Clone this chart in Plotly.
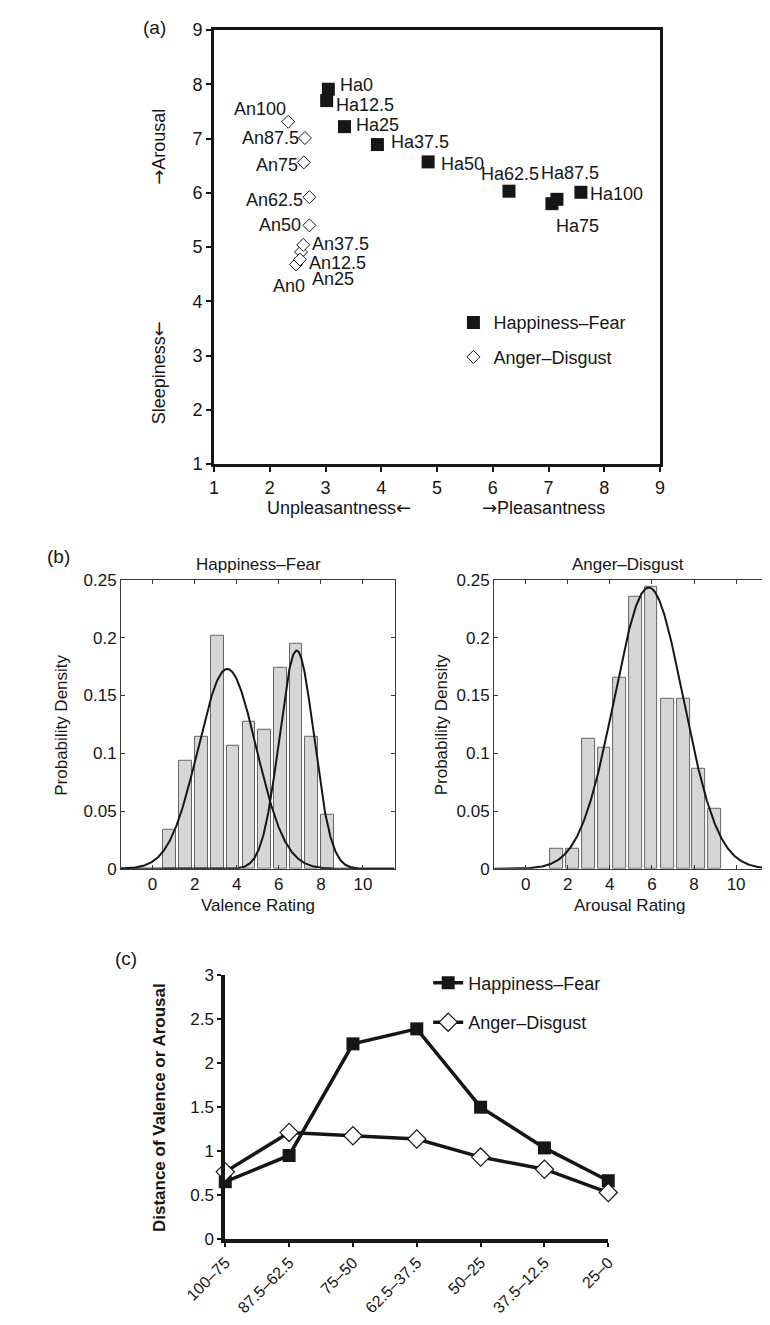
import numpy as np
import plotly.graph_objects as go

W, H = 770, 1325
FONT = "Liberation Sans, Arial, Helvetica, sans-serif"
INK = "#161616"
ARROW_R = "<span style=\"font-family:'DejaVu Sans'\">\u2192</span>"
ARROW_L = "<span style=\"font-family:'DejaVu Sans'\">\u2190</span>"

# ---------------- Panel (a) data ----------------
ha_labels = ["Ha0", "Ha12.5", "Ha25", "Ha37.5", "Ha50", "Ha62.5", "Ha75", "Ha87.5", "Ha100"]
ha_valence = [3.05, 3.02, 3.34, 3.93, 4.84, 6.29, 7.06, 7.15, 7.58]
ha_arousal = [7.91, 7.70, 7.22, 6.89, 6.57, 6.03, 5.80, 5.88, 6.01]

an_labels = ["An0", "An12.5", "An25", "An37.5", "An50", "An62.5", "An75", "An87.5", "An100"]
an_valence = [2.47, 2.56, 2.54, 2.60, 2.71, 2.71, 2.61, 2.63, 2.33]
an_arousal = [4.68, 4.91, 4.77, 5.04, 5.40, 5.92, 6.56, 7.01, 7.31]

axis_ticks_a = [1, 2, 3, 4, 5, 6, 7, 8, 9]

# ---------------- Panel (b) data ----------------
val_bin_centers = [0.8, 1.56, 2.31, 3.08, 3.82, 4.58, 5.31, 6.08, 6.82, 7.57, 8.32]
val_density = [0.0335, 0.0934, 0.1139, 0.2020, 0.1067, 0.1275, 0.1207, 0.1743, 0.1948, 0.1139, 0.0468]
val_fit_means = [3.55, 6.85]
val_fit_sds = [1.38, 0.82]
val_fit_weights = [0.598, 0.388]

aro_bin_centers = [1.47, 2.22, 2.99, 3.73, 4.48, 5.24, 5.96, 6.73, 7.49, 8.23, 8.98]
aro_density = [0.0173, 0.0173, 0.1127, 0.1045, 0.1652, 0.2352, 0.2440, 0.1474, 0.1474, 0.0869, 0.0522]
aro_fit_means = [5.85]
aro_fit_sds = [1.64]
aro_fit_weights = [1.0]

rating_ticks = [0, 2, 4, 6, 8, 10]

# ---------------- Panel (c) data ----------------
ranges = ["100\u201375", "87.5\u201362.5", "75\u201350", "62.5\u201337.5", "50\u201325", "37.5\u201312.5", "25\u20130"]
hf_distance = [0.653, 0.951, 2.22, 2.39, 1.50, 1.037, 0.664]
ad_distance = [0.765, 1.213, 1.175, 1.138, 0.933, 0.795, 0.53]

# ---------------- label placement (style: anchor, dx px, dy px down) ----------------
ha_label_style = {
    "Ha0": ("left", 10, -4), "Ha12.5": ("left", 7, 4), "Ha25": ("left", 9, -2),
    "Ha37.5": ("left", 12, -3), "Ha50": ("left", 11, 2), "Ha62.5": ("center", 1, -17),
    "Ha75": ("center", 26, 22), "Ha87.5": ("center", 13, -26), "Ha100": ("left", 7, 2),
}
an_label_style = {
    "An0": ("center", -7, 22), "An12.5": ("left", 6, 11), "An25": ("left", 10, 19),
    "An37.5": ("left", 7, -1), "An50": ("right", -6, 0), "An62.5": ("right", -4, 3),
    "An75": ("right", -4, 3), "An87.5": ("right", -4, 0), "An100": ("right", 0, -13),
}


def xd(a, b):
    return [a / W, b / W]


def yd(top, bottom):
    return [1 - bottom / H, 1 - top / H]


def mixture(x, means, sds, weights):
    y = np.zeros_like(x)
    for m, s, w in zip(means, sds, weights):
        y += w * np.exp(-0.5 * ((x - m) / s) ** 2) / (s * np.sqrt(2 * np.pi))
    return y


fig = go.Figure()

# ---- Panel (a)
fig.add_trace(go.Scatter(
    x=ha_valence, y=ha_arousal, mode="markers",
    marker=dict(symbol="square", size=13, color=INK),
    name="Happiness\u2013Fear", xaxis="x", yaxis="y", legend="legend", cliponaxis=False))
fig.add_trace(go.Scatter(
    x=an_valence, y=an_arousal, mode="markers",
    marker=dict(symbol="diamond", size=10, color="white", line=dict(color=INK, width=1)),
    name="Anger\u2013Disgust", xaxis="x", yaxis="y", legend="legend2", cliponaxis=False))

for labs, xs_, ys_, style in ((ha_labels, ha_valence, ha_arousal, ha_label_style),
                              (an_labels, an_valence, an_arousal, an_label_style)):
    for lab, vx, vy in zip(labs, xs_, ys_):
        anchor, dx, dy = style[lab]
        fig.add_annotation(x=vx, y=vy, xref="x", yref="y", text=lab, showarrow=False,
                           xanchor=anchor, yanchor="middle", xshift=dx, yshift=-dy,
                           font=dict(size=18, color=INK))

# ---- Panel (b) left
xs = np.linspace(-1.5, 11.5, 500)
fig.add_trace(go.Bar(x=val_bin_centers, y=val_density, width=0.61,
                     marker=dict(color="#d5d6d8", line=dict(color="#666", width=1)),
                     xaxis="x2", yaxis="y2", showlegend=False))
for m, s, w in zip(val_fit_means, val_fit_sds, val_fit_weights):
    fig.add_trace(go.Scatter(x=xs, y=mixture(xs, [m], [s], [w]), mode="lines",
                             line=dict(color=INK, width=2), xaxis="x2", yaxis="y2", showlegend=False))

# ---- Panel (b) right
fig.add_trace(go.Bar(x=aro_bin_centers, y=aro_density, width=0.61,
                     marker=dict(color="#d5d6d8", line=dict(color="#666", width=1)),
                     xaxis="x3", yaxis="y3", showlegend=False))
fig.add_trace(go.Scatter(x=xs, y=mixture(xs, aro_fit_means, aro_fit_sds, aro_fit_weights), mode="lines",
                         line=dict(color=INK, width=2), xaxis="x3", yaxis="y3", showlegend=False))

# ---- Panel (c)
xi = list(range(len(ranges)))
fig.add_trace(go.Scatter(x=xi, y=hf_distance, mode="lines+markers", name="Happiness\u2013Fear",
                         line=dict(color=INK, width=3.5),
                         marker=dict(symbol="square", size=13, color=INK),
                         xaxis="x4", yaxis="y4", legend="legend3", cliponaxis=False))
fig.add_trace(go.Scatter(x=xi, y=ad_distance, mode="lines+markers", name="Anger\u2013Disgust",
                         line=dict(color=INK, width=3.5),
                         marker=dict(symbol="diamond", size=14, color="white", line=dict(color=INK, width=1.2)),
                         xaxis="x4", yaxis="y4", legend="legend4", cliponaxis=False))

axis_a = dict(showline=True, linecolor=INK, linewidth=3, mirror=True, ticks="outside",
              ticklen=5, tickwidth=2, tickcolor=INK, showgrid=False, zeroline=False,
              tickfont=dict(size=18, color=INK), tickvals=axis_ticks_a, range=[1, 9])
axis_b = dict(showline=True, linecolor="#3a3a3a", linewidth=1, mirror="ticks", ticks="inside",
              ticklen=4, tickwidth=1, tickcolor="#3a3a3a", showgrid=False, zeroline=False,
              tickfont=dict(size=17, color=INK))
axis_c = dict(showline=True, linecolor=INK, linewidth=4, ticks="outside", ticklen=4,
              tickwidth=2, tickcolor=INK, showgrid=False, zeroline=False,
              tickfont=dict(size=17, color=INK))

leg = dict(xanchor="left", yanchor="middle", bgcolor="rgba(0,0,0,0)",
           font=dict(size=18, color=INK), itemwidth=30, borderwidth=0)

fig.update_layout(
    width=W, height=H, margin=dict(l=0, r=0, t=0, b=0),
    paper_bgcolor="white", plot_bgcolor="white",
    font=dict(family=FONT, color=INK),
    bargap=0,
    xaxis=dict(axis_a, domain=xd(184, 661), anchor="y"),
    yaxis=dict(axis_a, domain=yd(20.4, 461), anchor="x"),
    xaxis2=dict(axis_b, domain=xd(84.5, 377), range=[-1.5, 11.5], anchor="y2", tickvals=rating_ticks),
    yaxis2=dict(axis_b, domain=yd(578.5, 872), range=[0, 0.25], anchor="x2", dtick=0.05),
    xaxis3=dict(axis_b, domain=xd(483.5, 770), range=[-1.5, 11.23], anchor="y3", tickvals=rating_ticks),
    yaxis3=dict(axis_b, domain=yd(578.5, 872), range=[0, 0.25], anchor="x3", dtick=0.05, mirror=False),
    xaxis4=dict(axis_c, domain=xd(196, 605.6), range=[0, 6], anchor="y4",
                tickvals=xi, ticktext=ranges, tickangle=-45, tickfont=dict(size=16, color=INK)),
    yaxis4=dict(axis_c, domain=yd(980, 1248), range=[0, 3], anchor="x4", dtick=0.5),
    legend=dict(leg, x=440 / W, y=1 - 317.5 / H),
    legend2=dict(leg, x=440 / W, y=1 - 352.5 / H),
    legend3=dict(leg, x=413 / W, y=1 - 988 / H),
    legend4=dict(leg, x=413 / W, y=1 - 1028 / H),
)


def ann(text, x, y, size=17, angle=0, bold=False, xanchor="center"):
    fig.add_annotation(text=("<b>%s</b>" % text) if bold else text, x=x / W, y=1 - y / H,
                       xref="paper", yref="paper", showarrow=False, textangle=angle,
                       font=dict(size=size, color=INK), xanchor=xanchor, yanchor="middle")


ann("(a)", 120, 18, size=19)
ann(ARROW_R + "Arousal", 125, 139, size=18, angle=-90)
ann("Sleepiness" + ARROW_L, 125, 368, size=18, angle=-90)
ann("Unpleasantness" + ARROW_L, 238, 505, size=18, xanchor="left")
ann(ARROW_R + "Pleasantness", 604, 505, size=18, xanchor="right")

ann("(b)", 18, 555, size=19)
ann("Happiness\u2013Fear", 231, 563, size=17)
ann("Anger\u2013Disgust", 627, 563, size=17)
ann("Probability Density", 20, 726, size=17, angle=-90)
ann("Probability Density", 427, 726, size=17, angle=-90)
ann("Valence Rating", 231, 909, size=17)
ann("Arousal Rating", 629, 909, size=17)

ann("(c)", 90, 963, size=19)
ann("Distance of Valence or Arousal", 125, 1114, size=17, angle=-90, bold=True)

fig.write_html("out.html", config={"displayModeBar": False},
               post_script="document.body.style.margin='0px';")
